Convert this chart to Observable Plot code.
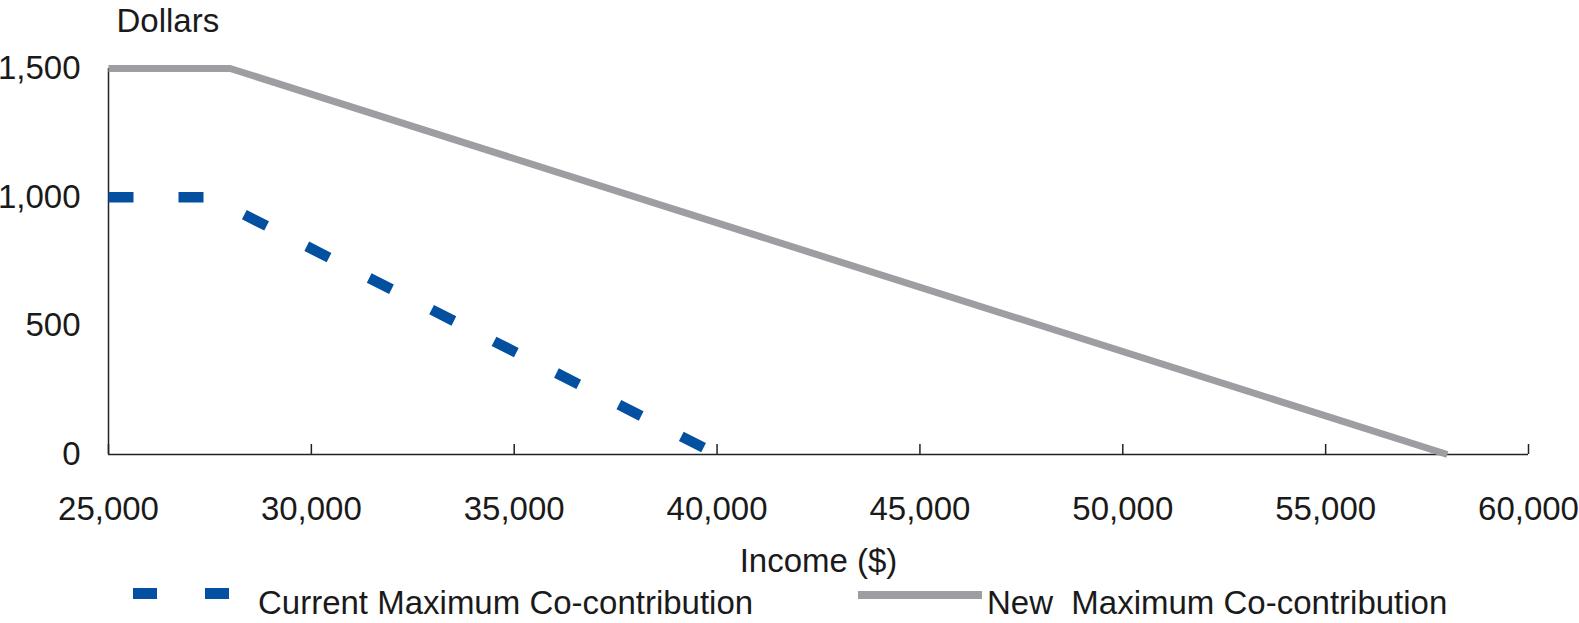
<!DOCTYPE html>
<html>
<head>
<meta charset="utf-8">
<script src="https://cdn.jsdelivr.net/npm/d3@7"></script>
<script src="https://cdn.jsdelivr.net/npm/@observablehq/plot@0.6"></script>
<style>
  body { margin: 0; background: #fff; font-family: "Liberation Sans", Arial, sans-serif; color: #1a1a1a; }
  #chart svg { display: block; overflow: visible; }
  .legend { position: relative; width: 1579px; height: 43px; font-size: 33px; }
  .legend .item { position: absolute; }
  .legend .txt { position: absolute; top: 4px; white-space: pre; line-height: normal; }
</style>
</head>
<body>
<div id="chart"></div>
<div class="legend" id="legend"></div>
<script>
// ---- data ----
const seriesNames = ["Current Maximum Co-contribution", "New  Maximum Co-contribution"];
const currentIncome = [25000, 27500, 40000];
const currentValue  = [1000, 1000, 0];
const newIncome     = [25000, 28000, 58000];
const newValue      = [1500, 1500, 0];
const xTicks = [25000, 30000, 35000, 40000, 45000, 50000, 55000, 60000];
const yTicks = [0, 500, 1000, 1500];
const yLabel = "Dollars";
const xLabel = "Income ($)";
const colors = ["#0350a0", "#9e9ea2"];

const currentData = currentIncome.map((x, i) => ({x, y: currentValue[i]}));
const newData = newIncome.map((x, i) => ({x, y: newValue[i]}));
const fmt = d3.format(",");

const chart = Plot.plot({
  width: 1579,
  height: 580,
  marginLeft: 108,
  marginRight: 51,
  marginTop: 68,
  marginBottom: 126,
  style: { fontFamily: "Liberation Sans, Arial, sans-serif", fontSize: "33px", color: "#1a1a1a", background: "white" },
  x: { domain: [25000, 60000] },
  y: { domain: [0, 1500] },
  marks: [
    Plot.ruleX([25000], { stroke: "#222", strokeWidth: 1.5 }),
    Plot.ruleY([0], { stroke: "#222", strokeWidth: 1.5 }),
    Plot.axisX({ ticks: xTicks, tickSize: 10, dy: -10, tickFormat: () => "", label: null, stroke: "#222", strokeWidth: 1.5 }),
    Plot.axisX({ ticks: xTicks, tickSize: 0, tickPadding: 42, tickFormat: fmt, fontSize: 33,
                 label: xLabel, labelAnchor: "center", labelArrow: "none", labelOffset: 117 }),
    Plot.axisY({ ticks: yTicks, tickSize: 0, tickPadding: 28, tickFormat: fmt, fontSize: 33, label: null }),
    Plot.text([yLabel], { frameAnchor: "top-left", dx: 8, dy: -47, textAnchor: "start", lineAnchor: "middle", fontSize: 33, fill: "#1a1a1a" }),
    Plot.line(newData, { x: "x", y: "y", stroke: colors[1], strokeWidth: 7, strokeLinecap: "butt", strokeLinejoin: "miter" }),
    Plot.line(currentData, { x: "x", y: "y", stroke: colors[0], strokeWidth: 10.5, strokeDasharray: "25,45", strokeLinecap: "butt", strokeLinejoin: "miter" })
  ]
});
document.getElementById("chart").appendChild(chart);

// ---- legend ----
const legend = document.getElementById("legend");
function box(left, top, w, h, color) {
  const d = document.createElement("div");
  d.className = "item";
  Object.assign(d.style, { left: left + "px", top: top + "px", width: w + "px", height: h + "px", background: color });
  legend.appendChild(d);
}
function label(left, text) {
  const s = document.createElement("span");
  s.className = "txt";
  s.style.left = left + "px";
  s.textContent = text;
  legend.appendChild(s);
}
box(133, 8, 24, 11, colors[0]);
box(205, 8, 24, 11, colors[0]);
label(258, seriesNames[0]);
box(858, 11, 124, 8, colors[1]);
label(987, seriesNames[1]);
</script>
</body>
</html>
